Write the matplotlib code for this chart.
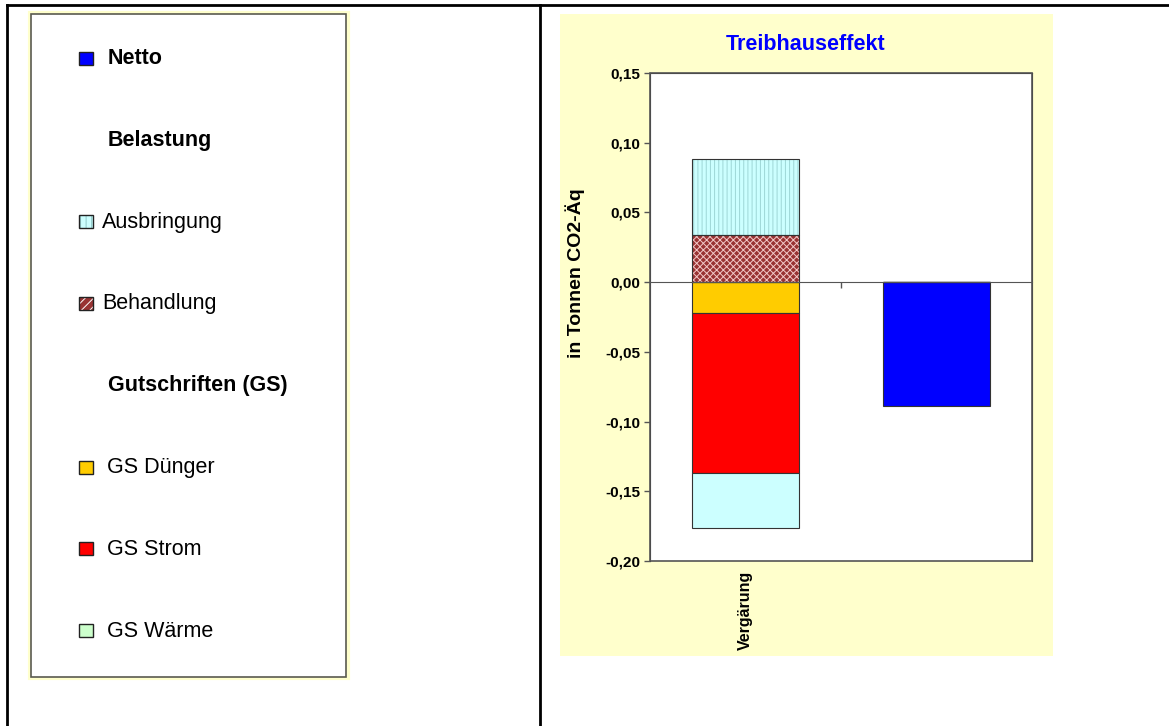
import matplotlib
matplotlib.use("Agg")
import matplotlib.pyplot as plt
import matplotlib.transforms as mtransforms
from matplotlib.patches import Rectangle
from matplotlib.ticker import FixedLocator, FuncFormatter

plt.rcParams["font.family"] = ["Liberation Sans", "DejaVu Sans"]
plt.rcParams["hatch.linewidth"] = 0.7

W, H = 1169, 726

# ── Data ──────────────────────────────────────────────────────────────────────
categories = ["Vergärung", ""]
# Belastung (positive, stacked upward)
behandlung  = [0.034, 0.0]
ausbringung = [0.054, 0.0]
# Gutschriften (negative, stacked downward)
gs_duenger = [-0.022, 0.0]
gs_strom   = [-0.115, 0.0]
gs_waerme  = [-0.039, 0.0]
# Net result
netto = [0.0, -0.089]

y_ticks = [-0.20, -0.15, -0.10, -0.05, 0.00, 0.05, 0.10, 0.15]

legend_labels = ["Netto", "Belastung", "Ausbringung", "Behandlung",
                 "Gutschriften (GS)", "GS Dünger", "GS Strom", "GS Wärme"]
legend_colors = ["#0000FF", None, "#CCFFFF", "#993333",
                 None, "#FFCC00", "#FF0000", "#CCFFCC"]
legend_hatch  = [None, None, "|||", "////", None, None, None, None]
legend_bold   = [True, True, False, False, True, False, False, False]

# ── Figure and background layer in pixel coordinates ─────────────────────────
fig = plt.figure(figsize=(W / 100, H / 100), dpi=100)
bg = fig.add_axes([0, 0, 1, 1], zorder=-1)
bg.set_xlim(0, W)
bg.set_ylim(H, 0)
bg.axis("off")

# table frame
bg.plot([7, 7], [5, H], color="black", lw=2)
bg.plot([540, 540], [5, H], color="black", lw=2)
bg.plot([7, W], [5, 5], color="black", lw=2)

# chart area background
bg.add_patch(Rectangle((560, 14), 493, 642, facecolor="#FFFFCC", edgecolor="none"))

# legend box
bg.add_patch(Rectangle((30, 13), 318, 665, facecolor="none", edgecolor="#FFFFCC", lw=3))
bg.add_patch(Rectangle((31, 14), 315, 663, facecolor="white", edgecolor="#5A5A50", lw=1.2))

row_y0, row_step = 58.5, 81.8
for i, (lab, col, hat, bold) in enumerate(zip(legend_labels, legend_colors,
                                               legend_hatch, legend_bold)):
    y = row_y0 + i * row_step
    if col is None:
        tx = 108
    else:
        tx = 102 if hat else 107
        if i == 0:
            tx = 108
        if hat == "|||":
            bg.add_patch(Rectangle((79, y - 7), 14, 13, facecolor=col,
                                   edgecolor="#8FC8C8", hatch=hat, lw=0))
        elif hat:
            bg.add_patch(Rectangle((79, y - 7), 14, 13, facecolor=col,
                                   edgecolor="white", hatch=hat, lw=0))
        else:
            bg.add_patch(Rectangle((79, y - 7), 14, 13, facecolor=col, lw=0))
        bg.add_patch(Rectangle((79, y - 7), 14, 13, facecolor="none",
                               edgecolor="#222222", lw=1))
    bg.text(tx, y, lab, fontsize=15.5, fontweight="bold" if bold else "normal",
            ha="left", va="center", color="black")

# ── Chart ─────────────────────────────────────────────────────────────────────
ax = fig.add_axes([650 / W, 1 - 561 / H, (1032 - 650) / W, (561 - 73) / H])
ax.set_facecolor("white")
x = list(range(len(categories)))
bw = 0.555

ax.bar(x, behandlung, bw, color="#993333", edgecolor="#F2C8C8", hatch="xxxxx",
       lw=0, zorder=2)
ax.bar(x, behandlung, bw, color="none", edgecolor="#333333", lw=0.8, zorder=3)

ax.bar(x, ausbringung, bw, bottom=behandlung, color="#CCFFFF", edgecolor="#9DD6D6",
       hatch="||||", lw=0, zorder=2)
ax.bar(x, ausbringung, bw, bottom=behandlung, color="none", edgecolor="#333333",
       lw=0.8, zorder=3)

neg_bottom = [0.0] * len(categories)
for vals, col in [(gs_duenger, "#FFCC00"), (gs_strom, "#FF0000"), (gs_waerme, "#CCFFFF")]:
    ax.bar(x, vals, bw, bottom=neg_bottom, color=col, edgecolor="#333333",
           lw=0.8, zorder=2)
    neg_bottom = [b + v for b, v in zip(neg_bottom, vals)]

ax.bar(x, netto, bw, color="#0000FF", edgecolor="#333333", lw=0.8, zorder=2)

ax.set_xlim(-0.5, len(categories) - 0.5)
ax.set_ylim(-0.20, 0.15)

# y axis
ax.yaxis.set_major_locator(FixedLocator(y_ticks))
ax.yaxis.set_major_formatter(FuncFormatter(lambda v, p: f"{v:.2f}".replace(".", ",")))
ax.tick_params(axis="y", direction="out", length=4, width=1, color="#555555",
               labelsize=11, pad=3)
for t in ax.get_yticklabels():
    t.set_fontweight("bold")
ax.set_ylabel("in Tonnen CO2-Äq", fontsize=14, fontweight="bold")
ax.yaxis.set_label_coords(-0.17, 0.59)

# x axis runs along zero, ticks sit between categories
ax.spines["bottom"].set_position(("data", 0))
ax.spines["bottom"].set_color("#555555")
ax.spines["bottom"].set_zorder(4)
ax.xaxis.set_major_locator(FixedLocator([i + 0.5 for i in x[:-1]]))
ax.tick_params(axis="x", direction="out", length=4, width=1, color="#555555",
               labelbottom=False)
for s in ["left", "top", "right"]:
    ax.spines[s].set_color("#222222")
ax.add_patch(Rectangle((0, 0), 1, 1, transform=ax.transAxes, fill=False,
                       edgecolor="#555555", lw=1.2, zorder=5, clip_on=False))

trans = mtransforms.blended_transform_factory(ax.transData, ax.transAxes)
for xi, cat in zip(x, categories):
    ax.text(xi, -0.02, cat, transform=trans, rotation=90, ha="center", va="top",
            fontsize=11.5, fontweight="bold")

fig.text(806 / W, 1 - 45 / H, "Treibhauseffekt", color="#0000FF", fontsize=15.5,
         fontweight="bold", ha="center", va="center")

fig.savefig("out.png", dpi=100)
